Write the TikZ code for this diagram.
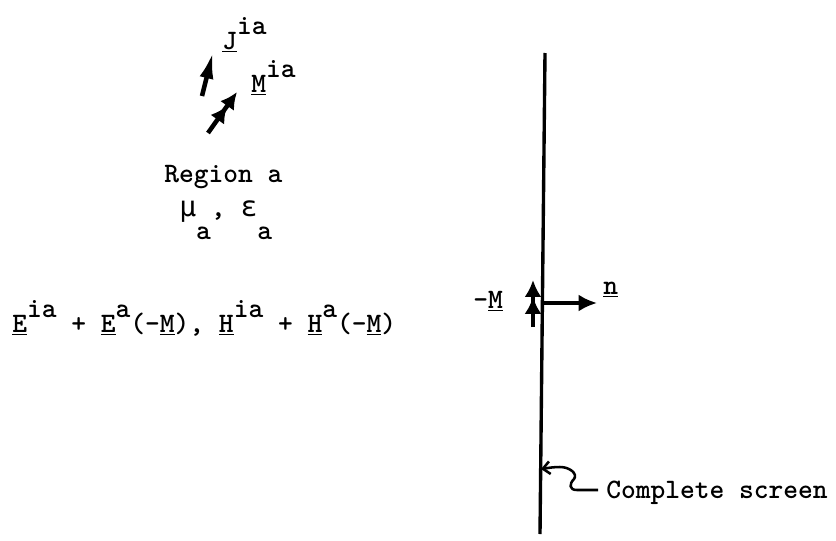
\documentclass[tikz,border=0pt]{standalone}
\usepackage{fontspec}
\usepackage{tikz}
\usetikzlibrary{arrows.meta}
\newfontfamily\grk{DejaVu Sans Mono}
\newcommand{\uv}[1]{\underline{#1}}
\newcommand{\up}[1]{\raisebox{0.5em}{#1}}
\newcommand{\dn}[1]{\raisebox{-0.85em}{#1}}

\begin{document}
\begin{tikzpicture}[
          x=0.025cm, y=-0.025cm,
          every node/.style={font=\fontsize{20}{24}\selectfont\ttfamily\bfseries, inner sep=0pt},
          lbl/.style={anchor=base west},
          vecarr/.style={line width=3.2pt, -{Latex[length=19pt,width=10pt]}},
          dblarr/.style={line width=3.2pt, -{Latex[length=12pt,width=12pt] Latex[length=12pt,width=12pt]}},
          nrm/.style={line width=2.4pt, -{Latex[length=13pt,width=12pt]}},
          wavy/.style={line width=1.8pt, -{Straight Barb[length=5pt,width=9pt]}},
          screen/.style={line width=2.4pt},
        ]
          \useasboundingbox (0,0) rectangle (836,540);

          % sources in region a
          \node[lbl] (jlab) at (222,49) {\uv{J}\up{ia}};
          \node[lbl] (mlab) at (251,92) {\uv{M}\up{ia}};
          \coordinate (jtail) at (202,96);  \coordinate (jtip) at (213,52);
          \coordinate (mtail) at (208,133); \coordinate (mtip) at (237,92);
          \draw[vecarr] (jtail) -- (jtip);
          \draw[dblarr] (mtail) -- (mtip);

          \node[lbl] (reg) at (164,182) {Region a};
          \node[lbl] (par) at (179,216) {{\grk\mdseries μ}\dn{a}, {\grk\mdseries ε}\dn{a}};
          \node[lbl] (fld) at (12,332)
            {\uv{E}\up{ia} + \uv{E}\up{a}(-\uv{M}), \uv{H}\up{ia} + \uv{H}\up{a}(-\uv{M})};

          % the screen
          \coordinate (scrtop) at (545,53);
          \coordinate (scrbot) at (540,534);
          \draw[screen] (scrtop) -- (scrbot);
          \coordinate (scrmid) at (542,303);
          \coordinate (ntip) at (597,303);
          \draw[nrm] (scrmid) -- (ntip);
          \node[lbl] (nlab) at (603,294) {\uv{n}};
          \coordinate (mstail) at (533,327); \coordinate (mstip) at (533,280);
          \draw[dblarr] (mstail) -- (mstip);
          \node[lbl] (mslab) at (473,308) {-\uv{M}};

          \node[lbl] (cs) at (606,498) {Complete screen};
          \coordinate (tail) at (598,490);
          \coordinate (hit) at (541,469);
          \draw[wavy] (tail) -- (577,490) .. controls (569,490) and (569,484) .. (574,479)
            .. controls (578,474) and (570,467) .. (560,467)
            .. controls (553,467) and (548,468) .. (hit);
        \end{tikzpicture}
\end{document}
